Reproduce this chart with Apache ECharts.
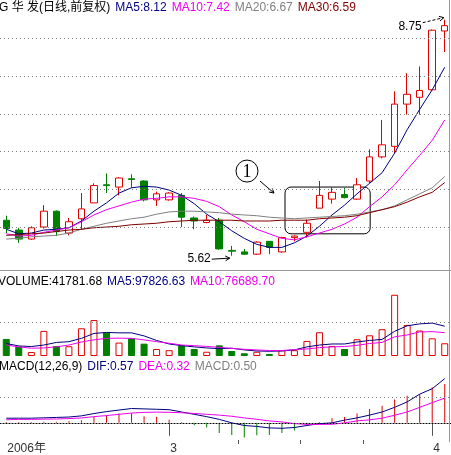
<!DOCTYPE html>
<html>
<head>
<meta charset="utf-8">
<title>G 华发 日线</title>
<script src="https://cdn.jsdelivr.net/npm/echarts@6/dist/echarts.min.js"></script>
<style>
  html, body { margin: 0; padding: 0; background: #fff; }
  #main { width: 451px; height: 455px; }
</style>
</head>
<body>
<div id="main"></div>
<script>
// 交易日
const dates = [
  '2006-02-10', '2006-02-13', '2006-02-14', '2006-02-15', '2006-02-16', '2006-02-17',
  '2006-02-20', '2006-02-21', '2006-02-22', '2006-02-23', '2006-02-24', '2006-02-27',
  '2006-02-28', '2006-03-01', '2006-03-02', '2006-03-03', '2006-03-06', '2006-03-07',
  '2006-03-08', '2006-03-09', '2006-03-10', '2006-03-13', '2006-03-14', '2006-03-15',
  '2006-03-16', '2006-03-17', '2006-03-20', '2006-03-21', '2006-03-22', '2006-03-23',
  '2006-03-24', '2006-03-27', '2006-03-28', '2006-03-29', '2006-04-03', '2006-04-04'
];

// K线
const opens = [6.09, 5.96, 5.84, 6.00, 6.21, 5.92, 6.11, 6.32, 6.56, 6.53, 6.64, 6.61,
  6.36, 6.36, 6.42, 6.12, 6.06, 6.09, 5.69, 5.67, 5.64, 5.81, 5.67, 5.86,
  5.93, 6.25, 6.37, 6.43, 6.37, 6.61, 6.93, 7.07, 7.63, 7.72, 7.82, 8.60];
const closes = [5.98, 5.84, 5.99, 6.21, 5.94, 6.07, 6.24, 6.55, 6.55, 6.65, 6.63, 6.36,
  6.44, 6.45, 6.13, 6.08, 6.09, 5.71, 5.68, 5.64, 5.80, 5.73, 5.86, 5.88,
  6.05, 6.42, 6.46, 6.39, 6.56, 6.93, 7.09, 7.63, 7.76, 7.81, 8.61, 8.67];
const highs = [6.15, 5.99, 6.01, 6.29, 6.22, 6.12, 6.45, 6.58, 6.71, 6.66, 6.70, 6.62,
  6.47, 6.46, 6.45, 6.14, 6.16, 6.12, 5.75, 5.71, 5.81, 5.81, 5.87, 5.89,
  6.10, 6.61, 6.53, 6.52, 6.65, 7.03, 7.42, 7.80, 8.04, 8.13, 8.62, 8.75];
const lows = [5.92, 5.79, 5.83, 5.98, 5.88, 5.89, 5.96, 6.32, 6.45, 6.42, 6.52, 6.34,
  6.28, 6.35, 6.00, 5.97, 6.05, 5.70, 5.62, 5.63, 5.63, 5.64, 5.66, 5.81,
  5.86, 6.25, 6.31, 6.38, 6.36, 6.58, 6.91, 6.98, 7.49, 7.49, 7.81, 8.32];

// 均线
const ma5 = [5.97, 5.91, 5.92, 5.96, 5.97, 5.99, 6.08, 6.21, 6.32, 6.45, 6.52, 6.54,
  6.53, 6.49, 6.42, 6.31, 6.17, 6.07, 5.95, 5.85, 5.77, 5.73, 5.73, 5.79,
  5.88, 6.01, 6.16, 6.29, 6.44, 6.58, 6.72, 6.98, 7.29, 7.56, 7.82, 8.12];
const ma10 = [5.91, 5.88, 5.89, 5.93, 5.96, 5.99, 6.07, 6.16, 6.23, 6.28, 6.33, 6.37,
  6.38, 6.40, 6.40, 6.38, 6.34, 6.27, 6.16, 6.07, 5.97, 5.91, 5.85, 5.83,
  5.87, 5.92, 5.97, 6.04, 6.13, 6.27, 6.40, 6.56, 6.76, 6.95, 7.15, 7.42];
const ma20 = [5.84, 5.85, 5.87, 5.88, 5.89, 5.92, 5.97, 6.01, 6.05, 6.08, 6.11, 6.13,
  6.17, 6.20, 6.21, 6.21, 6.20, 6.19, 6.17, 6.16, 6.15, 6.13, 6.12, 6.11,
  6.12, 6.13, 6.14, 6.15, 6.17, 6.20, 6.23, 6.28, 6.36, 6.44, 6.52, 6.67];
const ma30 = [5.89, 5.90, 5.91, 5.92, 5.94, 5.96, 5.97, 5.99, 6.00, 6.01, 6.03, 6.04,
  6.05, 6.07, 6.08, 6.09, 6.09, 6.09, 6.09, 6.08, 6.08, 6.08, 6.09, 6.09,
  6.09, 6.11, 6.12, 6.13, 6.15, 6.19, 6.23, 6.27, 6.33, 6.40, 6.46, 6.59];

// 成交量
const volumes = [56000, 31000, 13000, 82500, 33000, 32000, 91000, 118000, 77000, 44000, 58000, 40500,
  23000, 19000, 35000, 23000, 14000, 35000, 16500, 9000, 14000, 6600, 19000, 19000,
  49500, 78000, 33000, 23000, 55000, 68000, 88000, 201000, 102000, 83500, 58000, 41781.68];
const volMa5 = [41000, 33000, 31000, 36000, 44500, 47000, 58000, 74000, 77500, 76000, 76000, 66000,
  51000, 39500, 34000, 30000, 26500, 24000, 25500, 20000, 16500, 15500, 16500, 20000,
  30000, 36000, 39500, 39500, 46000, 51000, 54500, 81000, 99000, 105500, 108000, 97826.63];
const volMa10 = [36000, 30000, 25500, 26500, 30000, 36000, 46000, 53000, 58000, 58500, 58000, 53000,
  47000, 42000, 36000, 34000, 31500, 28500, 25000, 22000, 20000, 18000, 18000, 21000,
  23000, 27500, 30000, 31000, 35000, 41000, 44500, 63000, 69000, 79000, 80000, 76689.70];

// MACD
const macd = [0.01, 0.01, 0.01, 0.015, 0.015, 0.02, 0.035, 0.075, 0.095, 0.12, 0.125, 0.085,
  0.08, 0.04, 0.01, -0.03, -0.06, -0.13, -0.155, -0.19, -0.16, -0.155, -0.13, -0.10,
  -0.02, 0.01, 0.06, 0.075, 0.12, 0.18, 0.22, 0.30, 0.35, 0.37, 0.46, 0.50];
const dif = [0.06, 0.06, 0.06, 0.065, 0.07, 0.075, 0.09, 0.12, 0.145, 0.165, 0.185, 0.18,
  0.175, 0.17, 0.14, 0.11, 0.08, 0.045, 0.00, -0.034, -0.046, -0.065, -0.07, -0.06,
  -0.034, -0.01, 0.0, 0.035, 0.064, 0.10, 0.14, 0.20, 0.27, 0.37, 0.44, 0.57];
const dea = [0.04, 0.045, 0.045, 0.048, 0.05, 0.055, 0.063, 0.08, 0.094, 0.11, 0.126, 0.135,
  0.138, 0.136, 0.13, 0.122, 0.11, 0.10, 0.085, 0.064, 0.046, 0.025, 0.0125, -0.01,
  -0.02, -0.02, -0.018, 0.0, 0.025, 0.039, 0.06, 0.0975, 0.14, 0.20, 0.26, 0.32];

// 网格虚线
const priceLevels = [6.0, 6.5, 7.0, 7.5, 8.0, 8.5];
const volLevels = [110000];
const macdLevels = [0.33];
const minorTicks = [19, 24, 29];

const FONT = 'Liberation Sans, Noto Sans CJK SC';
const RED = '#e00000';
const GREEN = '#008000';
const NAVY = '#000080';
const PINK = '#ee00ee';
const GRAY = '#808080';
const MAROON = '#800000';

const last = arr => arr[arr.length - 1];
const f2 = v => v.toFixed(2);
const isUp = i => closes[i] >= opens[i];
const monthStart = i => i > 0 && dates[i].slice(5, 7) !== dates[i - 1].slice(5, 7);

const kData = opens.map((o, i) => [o, closes[i], lows[i], highs[i]]);
const volData = volumes.map((v, i) => ({
  value: v,
  itemStyle: isUp(i)
    ? { color: '#fff', borderColor: RED, borderWidth: 1 }
    : { color: GREEN, borderColor: GREEN, borderWidth: 1 }
}));
const macdData = macd.map(v => ({
  value: v,
  itemStyle: { color: v >= 0 ? RED : GREEN }
}));

const dotted = (levels, color) => ({
  silent: true,
  symbol: ['none', 'none'],
  label: { show: false },
  lineStyle: { color: color, type: [1, 3], width: 1 },
  data: levels.map(v => ({ yAxis: v }))
});

const maLine = (name, data, color, xi) => ({
  name: name, type: 'line', data: data,
  xAxisIndex: xi, yAxisIndex: xi,
  symbol: 'none', smooth: false,
  lineStyle: { color: color, width: 1 },
  itemStyle: { color: color }
});

const hiddenX = gi => ({
  type: 'category', gridIndex: gi, data: dates, boundaryGap: true, show: false
});

const textBase = { fontSize: 12, fontFamily: FONT, lineHeight: 12 };
const rich = {
  k: { ...textBase, color: '#000' },
  a: { ...textBase, color: NAVY, padding: [0, 0, 0, 5] },
  b: { ...textBase, color: PINK, padding: [0, 0, 0, 5] },
  c: { ...textBase, color: GRAY, padding: [0, 0, 0, 5] },
  d: { ...textBase, color: MAROON, padding: [0, 0, 0, 5] }
};

const chart = echarts.init(document.getElementById('main'));
chart.setOption({
  animation: false,
  backgroundColor: '#fff',
  title: [
    {
      left: -1, top: 2, padding: 0,
      text: '{k|G 华 发(日线,前复权)}{a|MA5:' + f2(last(ma5)) + '}{b|MA10:' + f2(last(ma10)) +
        '}{c|MA20:' + f2(last(ma20)) + '}{d|MA30:' + f2(last(ma30)) + '}',
      textStyle: { ...textBase, fontWeight: 'normal', rich: rich }
    },
    {
      left: -2, top: 276, padding: 0,
      text: '{k|VOLUME:' + f2(last(volumes)) + '}{a|MA5:' + f2(last(volMa5)) + '}{b|MA10:' + f2(last(volMa10)) + '}',
      textStyle: { ...textBase, fontWeight: 'normal', rich: rich }
    },
    {
      left: -1, top: 361, padding: 0,
      text: '{k|MACD(12,26,9)}{a|DIF:' + f2(last(dif)) + '}{b|DEA:' + f2(last(dea)) + '}{c|MACD:' + f2(last(macd)) + '}',
      textStyle: { ...textBase, fontWeight: 'normal', rich: rich }
    }
  ],
  grid: [
    { left: -3, right: 0, top: 18, height: 252 },
    { left: -3, right: 0, top: 289, height: 67 },
    { left: -3, right: 0, top: 376, height: 66 }
  ],
  xAxis: [
    hiddenX(0),
    hiddenX(1),
    {
      type: 'category', gridIndex: 2, data: dates, boundaryGap: true,
      axisLine: { lineStyle: { color: '#888', width: 1 } },
      axisTick: {
        show: true, alignWithLabel: true, length: 13,
        interval: (i) => monthStart(i),
        lineStyle: { color: '#555', width: 1 }
      },
      axisLabel: {
        interval: i => i === 0 || monthStart(i),
        align: 'left', margin: 3, padding: [0, 0, 0, 1],
        fontSize: 12, fontFamily: FONT, color: '#333',
        formatter: (v, i) => i === 0 ? v.slice(0, 4) + '年' : String(Number(v.slice(5, 7)))
      }
    },
    {
      type: 'category', gridIndex: 2, data: dates, boundaryGap: true, position: 'bottom', offset: 0,
      axisLine: { show: false },
      axisLabel: { show: false },
      axisTick: {
        show: true, length: 4,
        interval: (i) => minorTicks.includes(i),
        lineStyle: { color: '#555', width: 1 }
      }
    }
  ],
  yAxis: [
    { type: 'value', gridIndex: 0, min: 5.43, max: 8.772, show: false },
    { type: 'value', gridIndex: 1, min: 0, max: 220000, show: false },
    { type: 'value', gridIndex: 2, min: -0.221, max: 0.604, show: false }
  ],
  series: [
    {
      name: 'K', type: 'candlestick', data: kData,
      xAxisIndex: 0, yAxisIndex: 0, barWidth: 7,
      itemStyle: {
        color: '#fff', color0: GREEN,
        borderColor: RED, borderColor0: GREEN, borderWidth: 1
      },
      markLine: dotted(priceLevels, GRAY)
    },
    maLine('MA5', ma5, NAVY, 0),
    maLine('MA10', ma10, PINK, 0),
    maLine('MA20', ma20, GRAY, 0),
    maLine('MA30', ma30, MAROON, 0),
    {
      name: 'VOLUME', type: 'bar', data: volData,
      xAxisIndex: 1, yAxisIndex: 1, barWidth: 7,
      markLine: dotted(volLevels, GRAY)
    },
    maLine('VMA5', volMa5, NAVY, 1),
    maLine('VMA10', volMa10, PINK, 1),
    {
      name: 'MACD', type: 'bar', data: macdData,
      xAxisIndex: 3, yAxisIndex: 2, barWidth: 1,
      markLine: {
        silent: true, symbol: ['none', 'none'], label: { show: false },
        data: [
          { yAxis: 0, lineStyle: { color: '#000', type: [1, 2], width: 1 } },
          ...macdLevels.map(v => ({ yAxis: v, lineStyle: { color: GRAY, type: [1, 3], width: 1 } }))
        ]
      }
    },
    { ...maLine('DIF', dif, NAVY, 2), xAxisIndex: 2 },
    { ...maLine('DEA', dea, PINK, 2), xAxisIndex: 2 }
  ]
});

// 标注：最高/最低价、①号框
const px = (i, v) => chart.convertToPixel({ gridIndex: 0 }, [i, v]);
const band = px(1, 6)[0] - px(0, 6)[0];
const xAt = f => px(0, 6)[0] + f * band;

function arrow(x1, y1, x2, y2, dashed) {
  const ang = Math.atan2(y2 - y1, x2 - x1);
  const len = 5, spread = 0.5;
  const w1 = [x2 - len * Math.cos(ang - spread), y2 - len * Math.sin(ang - spread)];
  const w2 = [x2 - len * Math.cos(ang + spread), y2 - len * Math.sin(ang + spread)];
  return [
    { type: 'line', silent: true, shape: { x1: x1, y1: y1, x2: x2, y2: y2 },
      style: { stroke: '#000', lineWidth: 1, lineDash: dashed ? [3, 2] : null } },
    { type: 'polyline', silent: true, shape: { points: [w1, [x2, y2], w2] },
      style: { stroke: '#000', lineWidth: 1, fill: null } }
  ];
}

const hiIdx = highs.indexOf(Math.max(...highs));
const loIdx = lows.indexOf(Math.min(...lows));
const hi = px(hiIdx, highs[hiIdx]);
const lo = px(loIdx, lows[loIdx]);

const boxFrom = 22.25, boxTo = 29.05, boxTop = 6.53, boxBottom = 5.91;
const bx = xAt(boxFrom);
const by = px(0, boxTop)[1];
const bw = xAt(boxTo) - bx;
const bh = px(0, boxBottom)[1] - by;

const elements = [
  { type: 'text', silent: true,
    style: { text: f2(highs[hiIdx]), x: hi[0] - 23, y: hi[1] + 7, align: 'right', verticalAlign: 'middle',
      fontSize: 12, fontFamily: FONT, fill: '#000' } },
  ...arrow(hi[0] - 22, hi[1] + 3, hi[0] - 1, hi[1] - 2, true),
  { type: 'text', silent: true,
    style: { text: f2(lows[loIdx]), x: lo[0] - 21, y: lo[1] + 3.5, align: 'right', verticalAlign: 'middle',
      fontSize: 12, fontFamily: FONT, fill: '#000' } },
  ...arrow(lo[0] - 20, lo[1] + 3.5, lo[0] - 2, lo[1] + 2.5, false),
  { type: 'rect', silent: true, shape: { x: bx, y: by, width: bw, height: bh, r: 6 },
    style: { stroke: '#000', lineWidth: 1, fill: null } },
  { type: 'circle', silent: true, shape: { cx: bx - 38, cy: by - 16, r: 11 },
    style: { stroke: '#000', lineWidth: 1, fill: null } },
  { type: 'text', silent: true,
    style: { text: '1', x: bx - 38, y: by - 15, align: 'center', verticalAlign: 'middle',
      fontSize: 18, fontFamily: 'Liberation Serif', fill: '#000' } },
  ...arrow(bx - 25, by - 6, bx - 11, by + 6, false),
  // 面板分隔线
  { type: 'line', silent: true, shape: { x1: 0, y1: 270.5, x2: 451, y2: 270.5 },
    style: { stroke: '#999', lineWidth: 1 } },
  { type: 'line', silent: true, shape: { x1: 449.5, y1: 0, x2: 449.5, y2: 442 },
    style: { stroke: '#999', lineWidth: 1 } }
];

chart.setOption({ graphic: { elements: elements } });
</script>
</body>
</html>
